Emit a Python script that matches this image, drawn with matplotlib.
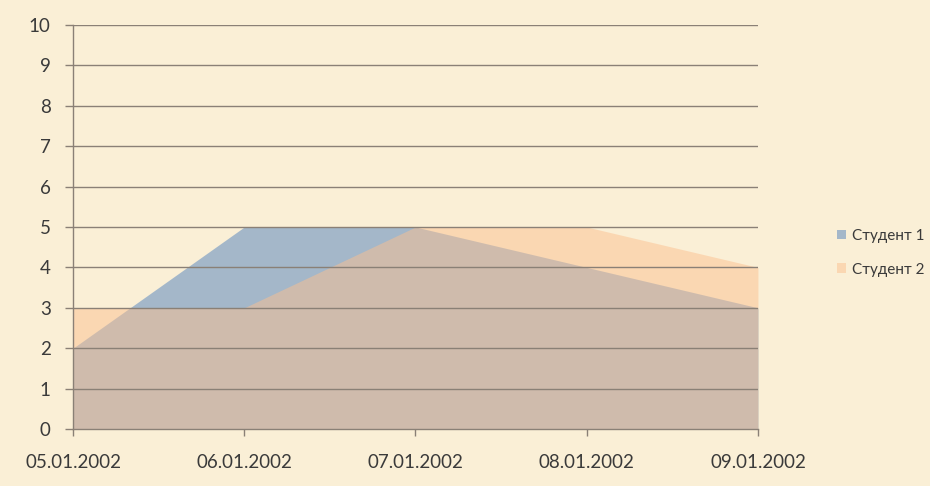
import numpy as np
import matplotlib
matplotlib.use("Agg")
import matplotlib.pyplot as plt
from matplotlib.patches import Patch

# -----------------------------
# Data
# -----------------------------
dates = ["05.01.2002", "06.01.2002", "07.01.2002", "08.01.2002", "09.01.2002"]
student1 = [2, 5, 5, 4, 3]
student2 = [3, 3, 5, 5, 4]
series_names = ["Студент 1", "Студент 2"]

# -----------------------------
# Style
# -----------------------------
plt.rcParams["font.family"] = ["Lato", "DejaVu Sans"]
bg_color = "#FAEFD6"
blue = "#4F81BD"
peach = "#FAC090"
grid_color = "#8A8076"
text_color = "#3A3A3A"

fig = plt.figure(figsize=(9.3, 4.86), dpi=100)
fig.patch.set_facecolor(bg_color)
ax = fig.add_axes([0.0785, 0.1173, 0.7365, 0.8313])
ax.set_facecolor("none")

x = np.arange(len(dates))
ax.fill_between(x, 0, student1, color=blue, alpha=0.5, linewidth=0, zorder=1)
ax.fill_between(x, 0, student2, color=peach, alpha=0.5, linewidth=0, zorder=2)

ax.set_xlim(0, len(dates) - 1)
ax.set_ylim(0, 10)
ax.set_yticks(range(0, 11))
ax.set_xticks(x)
ax.set_xticklabels(dates)

for yv in range(1, 11):
    ax.axhline(yv, color=grid_color, linewidth=1.0, zorder=3)

for side in ["top", "right"]:
    ax.spines[side].set_visible(False)
for side in ["left", "bottom"]:
    ax.spines[side].set_color(grid_color)
    ax.spines[side].set_linewidth(1.0)
    ax.spines[side].set_zorder(4)

ax.tick_params(axis="y", direction="out", length=6, width=1.0, color=grid_color,
               pad=10, labelsize=13.5, labelcolor=text_color)
ax.tick_params(axis="x", direction="out", length=5, width=1.0, color=grid_color,
               pad=13, labelsize=13.5, labelcolor=text_color)

handles = [Patch(facecolor=blue, alpha=0.5, edgecolor="none"),
           Patch(facecolor=peach, alpha=0.5, edgecolor="none")]
fig.legend(handles, series_names, loc="center left", bbox_to_anchor=(0.885, 0.48),
           frameon=False, fontsize=11, labelcolor=text_color,
           handlelength=0.6, handleheight=0.6, handletextpad=0.4, labelspacing=1.3)

fig.savefig("out.png", dpi=100, facecolor=bg_color)
